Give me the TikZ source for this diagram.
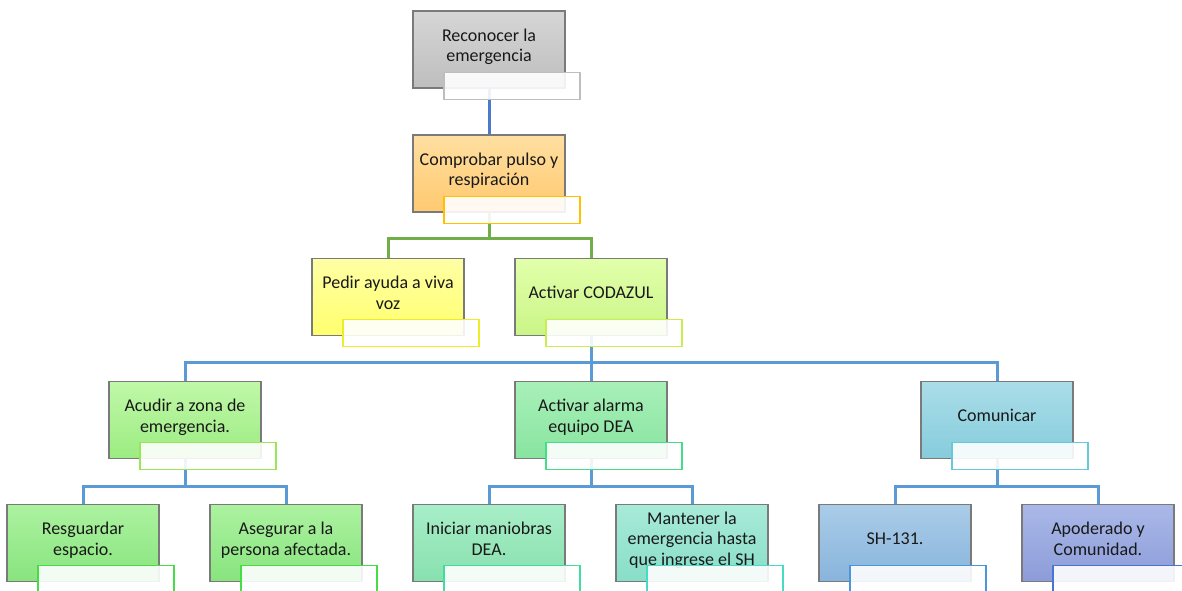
\documentclass[tikz,border=0pt]{standalone}
\usepackage{fontspec}
\setmainfont{Carlito}
\usetikzlibrary{positioning}

\definecolor{borde}{HTML}{7A7A7A}
\definecolor{lineaazul}{HTML}{4A7BCB}
\definecolor{lineaverde}{HTML}{72AE48}
\definecolor{lineacel}{HTML}{5B9BD5}
% box fills (top / bottom) and label borders
\definecolor{grisA}{HTML}{D6D6D6}      \definecolor{grisB}{HTML}{BEBEBE}      \definecolor{grisE}{HTML}{BEBEBE}
\definecolor{naranjaA}{HTML}{FFDFA0}   \definecolor{naranjaB}{HTML}{FFC970}   \definecolor{naranjaE}{HTML}{FFC000}
\definecolor{amarilloA}{HTML}{FFFFA5}  \definecolor{amarilloB}{HTML}{FFFF6E}  \definecolor{amarilloE}{HTML}{ECEC28}
\definecolor{limonA}{HTML}{E2FFAA}     \definecolor{limonB}{HTML}{CAF587}     \definecolor{limonE}{HTML}{C8EE50}
\definecolor{pastoA}{HTML}{C0F8A8}     \definecolor{pastoB}{HTML}{9CEC82}     \definecolor{pastoE}{HTML}{96E855}
\definecolor{verdeA}{HTML}{ACF2A0}     \definecolor{verdeB}{HTML}{88E47E}     \definecolor{verdeE}{HTML}{44DD44}
\definecolor{mentaA}{HTML}{A8F0B8}     \definecolor{mentaB}{HTML}{88E4A0}     \definecolor{mentaE}{HTML}{44DD88}
\definecolor{jadeA}{HTML}{A8EEC8}      \definecolor{jadeB}{HTML}{88E0AE}      \definecolor{jadeE}{HTML}{40DDA0}
\definecolor{aguaA}{HTML}{A8EAD8}      \definecolor{aguaB}{HTML}{88DEC8}      \definecolor{aguaE}{HTML}{44DDC4}
\definecolor{cianA}{HTML}{AADDE8}      \definecolor{cianB}{HTML}{86CCDC}      \definecolor{cianE}{HTML}{66C8D8}
\definecolor{cieloA}{HTML}{AACCE8}     \definecolor{cieloB}{HTML}{88B4DC}     \definecolor{cieloE}{HTML}{4A96DC}
\definecolor{azulA}{HTML}{AAB8E8}      \definecolor{azulB}{HTML}{8C9CD8}      \definecolor{azulE}{HTML}{4A74D4}

\begin{document}
\begin{tikzpicture}[x=1pt, y=-1pt,
  paso/.style={draw=borde, line width=1.1pt, minimum width=152pt, minimum height=77pt,
    inner sep=2pt, align=center, text depth=9pt, text=black!90,
    top color=#1A, bottom color=#1B,
    font=\fontsize{18}{20.5}\selectfont},
  etiqueta/.style={draw=#1E, line width=1.2pt, fill=white, fill opacity=0.9,
    minimum width=136pt, minimum height=27pt, inner sep=0pt, anchor=north west,
    xshift=31pt, yshift=17pt},
  rama/.style={line width=3pt, draw=#1}]

  \useasboundingbox (0,0) rectangle (1182,590);

  % Connectors
  \coordinate (c1) at (489,88);
  \coordinate (c2) at (489,212);
  \coordinate (c3) at (591,336);
  \coordinate (c4a) at (185,459);
  \coordinate (c4b) at (591,459);
  \coordinate (c4c) at (997,459);
  \draw[rama=lineaazul] (c1) -- (489,135);
  \draw[rama=lineaverde] (c2) -- ++(0,26) -| (388,258);
  \draw[rama=lineaverde] (c2) -- ++(0,26) -| (591,258);
  \draw[rama=lineacel] (c3) -- ++(0,26) -| (185,381);
  \draw[rama=lineacel] (c3) -- ++(0,26) -| (591,381);
  \draw[rama=lineacel] (c3) -- ++(0,26) -| (997,381);
  \draw[rama=lineacel] (c4a) -- ++(0,27) -| (83,504);
  \draw[rama=lineacel] (c4a) -- ++(0,27) -| (286,504);
  \draw[rama=lineacel] (c4b) -- ++(0,27) -| (489,504);
  \draw[rama=lineacel] (c4b) -- ++(0,27) -| (692,504);
  \draw[rama=lineacel] (c4c) -- ++(0,27) -| (895,504);
  \draw[rama=lineacel] (c4c) -- ++(0,27) -| (1098,504);

  % Steps
  \node[paso=gris] (n1) at (489,49.5) {Reconocer la\\emergencia};
  \node[paso=naranja] (n2) at (489,173.5) {Comprobar pulso y\\respiración};
  \node[paso=amarillo] (n3a) at (388,297) {Pedir ayuda a viva\\voz};
  \node[paso=limon] (n3b) at (591,297) {Activar CODAZUL};
  \node[paso=pasto] (n4a) at (185,420) {Acudir a zona de\\emergencia.};
  \node[paso=menta] (n4b) at (591,420) {Activar alarma\\equipo DEA};
  \node[paso=cian] (n4c) at (997,420) {Comunicar};
  \node[paso=verde] (n5a) at (83,543) {Resguardar\\espacio.};
  \node[paso=verde] (n5b) at (286,543) {Asegurar a la\\persona afectada.};
  \node[paso=jade] (n5c) at (489,543) {Iniciar maniobras\\DEA.};
  \node[paso=agua] (n5d) at (692,543) {Mantener la\\emergencia hasta\\que ingrese el SH};
  \node[paso=cielo] (n5e) at (895,543) {SH-131.};
  \node[paso=azul] (n5f) at (1098,543) {Apoderado y\\Comunidad.};

  % Label boxes
  \node[etiqueta=gris] (e1) at (n1.south west) {};
  \node[etiqueta=naranja] (e2) at (n2.south west) {};
  \node[etiqueta=amarillo] (e3a) at (n3a.south west) {};
  \node[etiqueta=limon] (e3b) at (n3b.south west) {};
  \node[etiqueta=pasto] (e4a) at (n4a.south west) {};
  \node[etiqueta=menta] (e4b) at (n4b.south west) {};
  \node[etiqueta=cian] (e4c) at (n4c.south west) {};
  \node[etiqueta=verde] (e5a) at (n5a.south west) {};
  \node[etiqueta=verde] (e5b) at (n5b.south west) {};
  \node[etiqueta=jade] (e5c) at (n5c.south west) {};
  \node[etiqueta=agua] (e5d) at (n5d.south west) {};
  \node[etiqueta=cielo] (e5e) at (n5e.south west) {};
  \node[etiqueta=azul] (e5f) at (n5f.south west) {};

\end{tikzpicture}
\end{document}
